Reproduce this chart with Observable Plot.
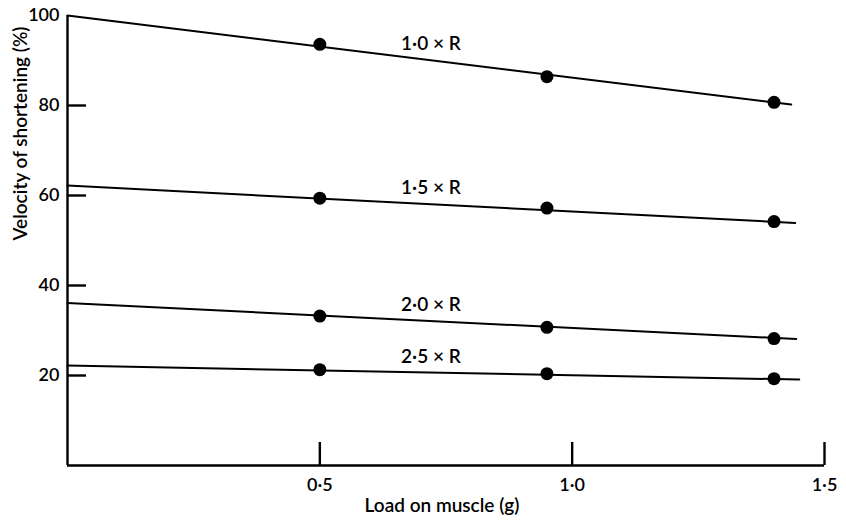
<!DOCTYPE html>
<html><head><meta charset="utf-8">
<script src="https://cdn.jsdelivr.net/npm/d3@7"></script>
<script src="https://cdn.jsdelivr.net/npm/@observablehq/plot@0.6"></script>
<style>body{margin:0;background:#fff;} svg{display:block;}</style>
</head><body><div id="chart"></div>
<script>
const seriesNames = ["1·0 × R", "1·5 × R", "2·0 × R", "2·5 × R"];
const loads = [0.5, 0.95, 1.4];
const velocities = [
  [93.6, 86.4, 80.7],
  [59.4, 57.2, 54.2],
  [33.2, 30.7, 28.2],
  [21.3, 20.4, 19.3]
];
const lineStartY = [100, 62.2, 36.1, 22.2];
const lineEndX = [1.434, 1.442, 1.444, 1.45];
const lineEndY = [80.2, 53.9, 28.1, 19.1];
const xTicks = [0.5, 1.0, 1.5];
const yTicks = [20, 40, 60, 80];
const yTickLabels = [20, 40, 60, 80, 100];
const xLabel = "Load on muscle (g)";
const yLabel = "Velocity of shortening (%)";
const labelAtX = 0.72;

const pointData = [];
seriesNames.forEach((s, i) => loads.forEach((x, j) => pointData.push({series: s, x, y: velocities[i][j]})));
const lineData = [];
seriesNames.forEach((s, i) => {
  lineData.push({series: s, x: 0, y: lineStartY[i]});
  lineData.push({series: s, x: lineEndX[i], y: lineEndY[i]});
});
const labelData = seriesNames.map((s, i) => ({
  series: s, x: labelAtX,
  y: lineStartY[i] + (lineEndY[i] - lineStartY[i]) * labelAtX / lineEndX[i]
}));
const fmt = d => d.toFixed(1).replace(".", "·");
const font = "Lato, 'Open Sans', sans-serif";
const W = 846, H = 521, mL = 67, mR = 22, mT = 15, mB = 56;
const frameW = W - mL - mR, frameH = H - mT - mB;

const chart = Plot.plot({
  width: W, height: H,
  marginLeft: mL, marginRight: mR, marginTop: mT, marginBottom: mB,
  x: {domain: [0, 1.5]},
  y: {domain: [0, 100]},
  style: {fontFamily: font, background: "white", color: "black"},
  marks: [
    Plot.axisX(xTicks, {tickSize: 0, tickPadding: 13, tickFormat: fmt, fontSize: 18, fontWeight: 600, label: null, fill: "black"}),
    Plot.axisY(yTickLabels, {tickSize: 0, tickPadding: 8, tickFormat: d => String(d), fontSize: 18, fontWeight: 600, label: null, fill: "black"}),
    Plot.ruleX([0], {y1: 0, y2: 100, strokeWidth: 2.4, stroke: "black"}),
    Plot.ruleY([0], {x1: 0, x2: 1.5, strokeWidth: 2.4, stroke: "black"}),
    Plot.tickY(yTicks, {y: d => d, insetRight: frameW - 19, strokeWidth: 2.4, stroke: "black"}),
    Plot.tickX(xTicks, {x: d => d, insetTop: frameH - 23, strokeWidth: 2.4, stroke: "black"}),
    Plot.line(lineData, {x: "x", y: "y", z: "series", stroke: "black", strokeWidth: 2}),
    Plot.dot(pointData, {x: "x", y: "y", r: 6.5, fill: "black", stroke: "none"}),
    Plot.text(labelData, {x: "x", y: "y", text: "series", dy: -16, fontSize: 19, fontWeight: 600, fill: "black"}),
    Plot.text([xLabel], {frameAnchor: "bottom", dy: 46, dx: -4, fontSize: 19, fontWeight: 600, fill: "black"}),
    Plot.text([yLabel], {frameAnchor: "left", dx: -47, rotate: -90, fontSize: 19, fontWeight: 600, fill: "black"})
  ]
});
document.getElementById("chart").appendChild(chart);
</script>
</body></html>
